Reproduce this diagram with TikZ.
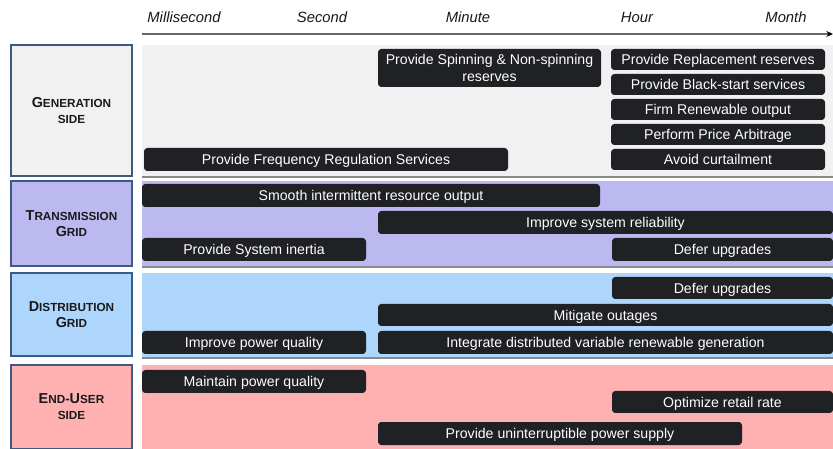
\documentclass[tikz,border=0pt]{standalone}
\usepackage{fontspec}
\setmainfont{Liberation Sans}
\usetikzlibrary{arrows.meta}
\definecolor{barc}{HTML}{1F2124}
\definecolor{genc}{HTML}{F1F1F1}
\definecolor{trac}{HTML}{BCB9F1}
\definecolor{disc}{HTML}{AED6FC}
\definecolor{endc}{HTML}{FFB1B1}
\definecolor{edgec}{HTML}{3C5A85}
\definecolor{sepc}{HTML}{8A8A8A}
\tikzset{
  barbase/.style={fill=barc, rounded corners=2.5pt, text=white, inner sep=0pt, font=\fontsize{10.6}{12.6}\selectfont, align=center},
  barbox/.style={barbase, text height=1.0em, text depth=0.2em},
  sidebox/.style={draw=edgec, line width=0.8pt, inner sep=0pt, font=\bfseries, align=center, text=black!90},
  timelbl/.style={font=\fontsize{11.1}{12}\selectfont\itshape, text=black!90},
  sepline/.style={draw=sepc, line width=1.4pt}
}
\newcommand\mkbar[7][barbox]{%
  \pgfmathsetmacro\bw{(#5-#3)*0.75}%
  \pgfmathsetmacro\bh{(#6-#4)*0.75}%
  \node[#1, minimum width=\bw pt, minimum height=\bh pt] (#2) at ({(#3+#5)/2},{(#4+#6)/2}) {#7};}
\newcommand\mkside[7]{%
  \pgfmathsetmacro\bw{(#4-#2)*0.75}%
  \pgfmathsetmacro\bh{(#5-#3)*0.75}%
  \node[sidebox, fill=#6, minimum width=\bw pt, minimum height=\bh pt] (#1) at ({(#2+#4)/2},{(#3+#5)/2}) {#7};}
\newcommand\bigc[1]{{\fontsize{10.8}{13.5}\selectfont #1}}
\newcommand\smc[1]{{\fontsize{8.8}{13.5}\selectfont #1}}
\begin{document}
\begin{tikzpicture}[x=0.75pt,y=-0.75pt]
\useasboundingbox (0,0) rectangle (833,449);
\fill[white] (0,0) rectangle (833,449);
% time axis
\node[timelbl] (tms) at (184,17.5) {Millisecond};
\node[timelbl] (tse) at (322,17.5) {Second};
\node[timelbl] (tmi) at (468,17.5) {Minute};
\node[timelbl] (tho) at (637,17.5) {Hour};
\node[timelbl] (tmo) at (786,17.5) {Month};
\coordinate (axs) at (142,34);
\coordinate (axe) at (833,34);
\draw[draw=black!60, line width=0.9pt, -{Stealth[black,length=5pt,width=4.5pt]}] (axs) -- (axe);
% bands
\fill[genc] (142,45) rectangle (833,176);
\draw[sepline] (142,177) -- (833,177);
\fill[trac] (142,181) rectangle (833,266);
\draw[sepline] (142,267) -- (833,267);
\fill[disc] (142,273) rectangle (833,357);
\draw[sepline] (142,358) -- (833,358);
\fill[endc] (142,365) rectangle (833,449);
% side labels
\mkside{sgen}{11}{45}{132}{176}{genc}{\bigc{G}\smc{ENERATION}\\\smc{SIDE}}
\mkside{stra}{11}{181}{132}{266}{trac}{\bigc{T}\smc{RANSMISSION}\\\bigc{G}\smc{RID}}
\mkside{sdis}{11}{273}{132}{356}{disc}{\bigc{D}\smc{ISTRIBUTION}\\\bigc{G}\smc{RID}}
\mkside{send}{11}{365}{132}{449}{endc}{\bigc{E}\smc{ND}-\bigc{U}\smc{SER}\\\smc{SIDE}}
% generation bars
\mkbar[barbase]{gspin}{378}{49}{601}{87}{Provide Spinning \& Non-spinning\\reserves}
\mkbar{grep}{611}{49}{825}{70}{Provide Replacement reserves}
\mkbar{gbla}{611}{74}{825}{95}{Provide Black-start services}
\mkbar{gfir}{611}{99}{825}{120}{Firm Renewable output}
\mkbar{gpri}{611}{124}{825}{145}{Perform Price Arbitrage}
\mkbar{gavo}{611}{149}{825}{170}{Avoid curtailment}
\mkbar{gfre}{144}{148}{508}{171}{Provide Frequency Regulation Services}
% transmission bars
\mkbar{tsmo}{142}{184}{600}{207}{Smooth intermittent resource output}
\mkbar{timp}{378}{211}{833}{234}{Improve system reliability}
\mkbar{tine}{142}{238}{366}{261}{Provide System inertia}
\mkbar{tdef}{612}{238}{833}{261}{Defer upgrades}
% distribution bars
\mkbar{ddef}{612}{277}{833}{299}{Defer upgrades}
\mkbar{dmit}{378}{304}{833}{326}{Mitigate outages}
\mkbar{dimp}{142}{331}{366}{354}{Improve power quality}
\mkbar{dint}{378}{331}{833}{354}{Integrate distributed variable renewable generation}
% end-user bars
\mkbar{emai}{142}{370}{366}{393}{Maintain power quality}
\mkbar{eopt}{612}{391}{833}{413}{Optimize retail rate}
\mkbar{eups}{378}{422}{742}{445}{Provide uninterruptible power supply}
\end{tikzpicture}
\end{document}
